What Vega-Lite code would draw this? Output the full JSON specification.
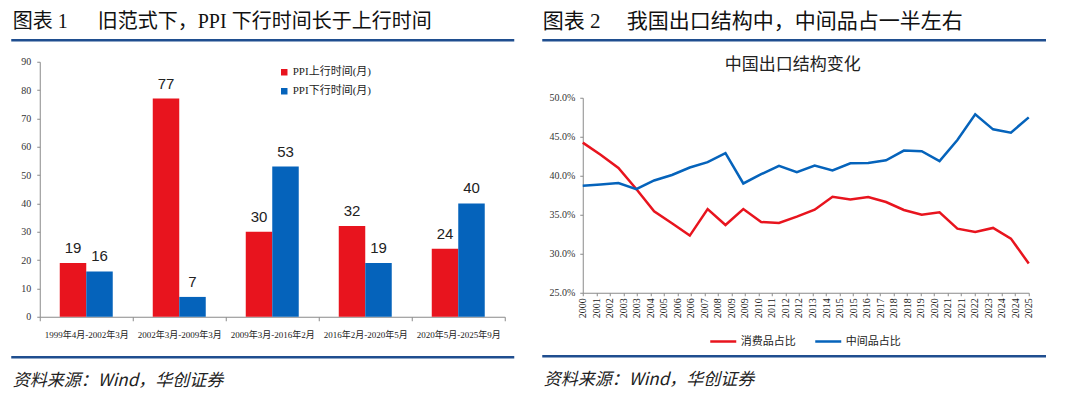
{
  "$schema": "https://vega.github.io/schema/vega-lite/v6.json",
  "background": "white",
  "padding": {"left": 10.75, "top": 10.75, "right": 0, "bottom": 14},
  "config": {
    "view": {"stroke": null},
    "axis": {"grid": false, "labelFont": "Liberation Serif", "labelColor": "#333333", "domainColor": "#8a8a8a", "tickColor": "#8a8a8a", "domainWidth": 1, "tickWidth": 1},
    "legend": {"labelColor": "#222222"}
  },
  "datasets": {
    "ppi": [
      {"period": "1999年4月-2002年3月", "series": "PPI上行时间(月)", "months": 19},
      {"period": "1999年4月-2002年3月", "series": "PPI下行时间(月)", "months": 16},
      {"period": "2002年3月-2009年3月", "series": "PPI上行时间(月)", "months": 77},
      {"period": "2002年3月-2009年3月", "series": "PPI下行时间(月)", "months": 7},
      {"period": "2009年3月-2016年2月", "series": "PPI上行时间(月)", "months": 30},
      {"period": "2009年3月-2016年2月", "series": "PPI下行时间(月)", "months": 53},
      {"period": "2016年2月-2020年5月", "series": "PPI上行时间(月)", "months": 32},
      {"period": "2016年2月-2020年5月", "series": "PPI下行时间(月)", "months": 19},
      {"period": "2020年5月-2025年9月", "series": "PPI上行时间(月)", "months": 24},
      {"period": "2020年5月-2025年9月", "series": "PPI下行时间(月)", "months": 40}
    ],
    "exports": [
      {"year": 2000, "series": "消费品占比", "share": 0.4425},
      {"year": 2001, "series": "消费品占比", "share": 0.427},
      {"year": 2002, "series": "消费品占比", "share": 0.41},
      {"year": 2003, "series": "消费品占比", "share": 0.383},
      {"year": 2004, "series": "消费品占比", "share": 0.3544},
      {"year": 2005, "series": "消费品占比", "share": 0.339},
      {"year": 2006, "series": "消费品占比", "share": 0.3233},
      {"year": 2007, "series": "消费品占比", "share": 0.3573},
      {"year": 2008, "series": "消费品占比", "share": 0.3369},
      {"year": 2009, "series": "消费品占比", "share": 0.3573},
      {"year": 2010, "series": "消费品占比", "share": 0.3407},
      {"year": 2011, "series": "消费品占比", "share": 0.3394},
      {"year": 2012, "series": "消费品占比", "share": 0.3475},
      {"year": 2013, "series": "消费品占比", "share": 0.3565},
      {"year": 2014, "series": "消费品占比", "share": 0.3731},
      {"year": 2015, "series": "消费品占比", "share": 0.3697},
      {"year": 2016, "series": "消费品占比", "share": 0.3727},
      {"year": 2017, "series": "消费品占比", "share": 0.3663},
      {"year": 2018, "series": "消费品占比", "share": 0.3561},
      {"year": 2019, "series": "消费品占比", "share": 0.3501},
      {"year": 2020, "series": "消费品占比", "share": 0.3531},
      {"year": 2021, "series": "消费品占比", "share": 0.3322},
      {"year": 2022, "series": "消费品占比", "share": 0.328},
      {"year": 2023, "series": "消费品占比", "share": 0.3331},
      {"year": 2024, "series": "消费品占比", "share": 0.3194},
      {"year": 2025, "series": "消费品占比", "share": 0.2875},
      {"year": 2000, "series": "中间品占比", "share": 0.3872},
      {"year": 2001, "series": "中间品占比", "share": 0.3889},
      {"year": 2002, "series": "中间品占比", "share": 0.3906},
      {"year": 2003, "series": "中间品占比", "share": 0.3829},
      {"year": 2004, "series": "中间品占比", "share": 0.394},
      {"year": 2005, "series": "中间品占比", "share": 0.401},
      {"year": 2006, "series": "中间品占比", "share": 0.4106},
      {"year": 2007, "series": "中间品占比", "share": 0.4174},
      {"year": 2008, "series": "中间品占比", "share": 0.4289},
      {"year": 2009, "series": "中间品占比", "share": 0.3901},
      {"year": 2010, "series": "中间品占比", "share": 0.402},
      {"year": 2011, "series": "中间品占比", "share": 0.4127},
      {"year": 2012, "series": "中间品占比", "share": 0.4046},
      {"year": 2013, "series": "中间品占比", "share": 0.4131},
      {"year": 2014, "series": "中间品占比", "share": 0.4068},
      {"year": 2015, "series": "中间品占比", "share": 0.416},
      {"year": 2016, "series": "中间品占比", "share": 0.4165},
      {"year": 2017, "series": "中间品占比", "share": 0.4199},
      {"year": 2018, "series": "中间品占比", "share": 0.4323},
      {"year": 2019, "series": "中间品占比", "share": 0.4315},
      {"year": 2020, "series": "中间品占比", "share": 0.4187},
      {"year": 2021, "series": "中间品占比", "share": 0.4459},
      {"year": 2022, "series": "中间品占比", "share": 0.4787},
      {"year": 2023, "series": "中间品占比", "share": 0.4595},
      {"year": 2024, "series": "中间品占比", "share": 0.4553},
      {"year": 2025, "series": "中间品占比", "share": 0.4749}
    ]
  },
  "resolve": {"scale": {"color": "independent"}, "legend": {"color": "independent"}},
  "hconcat": [
    {
      "resolve": {"scale": {"color": "independent"}, "legend": {"color": "independent"}},
      "vconcat": [
        {
          "width": 503, "height": 4,
          "title": {"text": "图表 1\u3000\u00a0\u00a0旧范式下，PPI 下行时间长于上行时间", "anchor": "start", "orient": "top", "font": "Liberation Serif, Noto Sans CJK SC", "fontSize": 20, "fontWeight": "normal", "color": "#111111", "offset": 8, "dx": 2},
          "data": {"values": [{"part": "header"}]},
          "mark": {"type": "point", "opacity": 0, "size": 0},
          "encoding": {"x": {"field": "part", "type": "nominal", "axis": {"orient": "top", "title": null, "labels": false, "ticks": false, "domainColor": "#1f4e8f", "domainWidth": 2.5}}}
        },
        {
          "resolve": {"scale": {"color": "independent"}, "legend": {"color": "independent"}},
          "hconcat": [
            {"width": 1, "height": 1, "data": {"values": [{"part": "gap"}]}, "mark": {"type": "point", "opacity": 0, "size": 0}},
            {
              "width": 465, "height": 255,
              "data": {"name": "ppi"},
              "encoding": {
                "x": {"field": "period", "type": "nominal", "sort": null, "scale": {"paddingInner": 0, "paddingOuter": 0},
                  "axis": {"title": null, "labelAngle": 0, "tickBand": "extent", "tickSize": 4, "labelPadding": 10, "labelFontSize": 9, "labelFont": "Liberation Serif, Noto Sans CJK SC", "labelColor": "#222222"}},
                "xOffset": {"field": "series", "type": "nominal", "sort": null, "scale": {"domain": ["PPI上行时间(月)", "PPI下行时间(月)"], "paddingInner": 0, "paddingOuter": 0.755}},
                "y": {"field": "months", "type": "quantitative", "scale": {"domain": [0, 90], "nice": false},
                  "axis": {"title": null, "values": [0, 10, 20, 30, 40, 50, 60, 70, 80, 90], "tickSize": 3, "labelPadding": 6, "labelFontSize": 10, "minExtent": 28, "maxExtent": 28}}
              },
              "layer": [
                {
                  "mark": {"type": "bar"},
                  "encoding": {
                    "color": {"field": "series", "type": "nominal",
                      "scale": {"domain": ["PPI上行时间(月)", "PPI下行时间(月)"], "range": ["#e8141e", "#0563bb"]},
                      "legend": {"orient": "none", "legendX": 239, "legendY": 5, "title": null, "symbolType": "square", "symbolSize": 42, "symbolStrokeWidth": 0, "labelFont": "Liberation Serif, Noto Sans CJK SC", "labelFontSize": 11, "labelOffset": 3, "rowPadding": 7}}
                  }
                },
                {
                  "mark": {"type": "text", "dy": -10, "baseline": "alphabetic", "font": "Liberation Sans Narrow, Liberation Sans", "fontSize": 15, "color": "#222222"},
                  "encoding": {"text": {"field": "months", "type": "quantitative"}}
                }
              ]
            }
          ],
          "spacing": 0
        },
        {
          "width": 503, "height": 1,
          "title": {"text": "资料来源：Wind，华创证券", "orient": "bottom", "anchor": "start", "font": "Noto Sans CJK SC", "fontStyle": "italic", "fontSize": 17, "fontWeight": "normal", "color": "#222222", "offset": 15, "dx": 2},
          "data": {"values": [{"part": "footer"}]},
          "mark": {"type": "point", "opacity": 0, "size": 0},
          "encoding": {"x": {"field": "part", "type": "nominal", "axis": {"orient": "top", "title": null, "labels": false, "ticks": false, "domainColor": "#1f4e8f", "domainWidth": 2.5, "minExtent": 4}}}
        }
      ],
      "spacing": 13
    },
    {
      "resolve": {"scale": {"color": "independent"}, "legend": {"color": "independent"}},
      "vconcat": [
        {
          "width": 504, "height": 7,
          "title": {"text": "图表 2\u3000\u00a0我国出口结构中，中间品占一半左右", "anchor": "start", "orient": "top", "font": "Liberation Serif, Noto Sans CJK SC", "fontSize": 21, "fontWeight": "normal", "color": "#111111", "offset": 8, "dx": 1},
          "data": {"values": [{"part": "header"}]},
          "mark": {"type": "point", "opacity": 0, "size": 0},
          "encoding": {"x": {"field": "part", "type": "nominal", "axis": {"orient": "top", "title": null, "labels": false, "ticks": false, "domainColor": "#1f4e8f", "domainWidth": 2.5}}}
        },
        {
          "resolve": {"scale": {"color": "independent"}, "legend": {"color": "independent"}},
          "hconcat": [
            {"width": 1, "height": 1, "data": {"values": [{"part": "gap"}]}, "mark": {"type": "point", "opacity": 0, "size": 0}},
            {
              "width": 446, "height": 195,
              "title": {"text": "中国出口结构变化", "font": "Noto Sans CJK SC", "fontSize": 17, "fontWeight": "normal", "color": "#222222", "anchor": "middle", "offset": 19, "dx": -13},
              "data": {"name": "exports"},
              "mark": {"type": "line", "strokeWidth": 2.5},
              "encoding": {
                "x": {"field": "year", "type": "quantitative", "scale": {"domain": [2000, 2025], "nice": false, "zero": false},
                  "axis": {"title": null,
                    "values": [2000, 2000.7576, 2001.5152, 2002.2727, 2003.0303, 2003.7879, 2004.5455, 2005.303, 2006.0606, 2006.8182, 2007.5758, 2008.3333, 2009.0909, 2009.8485, 2010.6061, 2011.3636, 2012.1212, 2012.8788, 2013.6364, 2014.3939, 2015.1515, 2015.9091, 2016.6667, 2017.4242, 2018.1818, 2018.9394, 2019.697, 2020.4545, 2021.2121, 2021.9697, 2022.7273, 2023.4848, 2024.2424, 2025],
                    "labelExpr": "['2000','2001','2002','2003','2003','2004','2005','2006','2006','2007','2008','2009','2009','2010','2011','2012','2012','2013','2014','2015','2015','2016','2017','2018','2018','2019','2020','2021','2021','2022','2023','2024','2024','2025'][round((datum.value-2000)*1.32)]",
                    "labelAngle": -90, "labelFontSize": 10, "tickSize": 3, "labelPadding": 2, "labelOverlap": false, "labelFlush": false, "labelColor": "#222222"}},
                "y": {"field": "share", "type": "quantitative", "scale": {"domain": [0.25, 0.5], "nice": false, "zero": false},
                  "axis": {"title": null, "format": ".1%", "values": [0.25, 0.3, 0.35, 0.4, 0.45, 0.5], "tickSize": 3, "labelPadding": 5, "labelFontSize": 10, "minExtent": 40, "maxExtent": 40}},
                "color": {"field": "series", "type": "nominal",
                  "scale": {"domain": ["消费品占比", "中间品占比"], "range": ["#e8141e", "#0563bb"]},
                  "legend": {"orient": "none", "legendX": 126, "legendY": 229, "direction": "horizontal", "title": null, "symbolType": "stroke", "symbolSize": 676, "symbolStrokeWidth": 2.5, "labelFont": "Noto Sans CJK SC", "labelFontSize": 11, "labelOffset": 3, "columnPadding": 14}}
              }
            }
          ],
          "spacing": 0
        },
        {
          "width": 504, "height": 1,
          "title": {"text": "资料来源：Wind，华创证券", "orient": "bottom", "anchor": "start", "font": "Noto Sans CJK SC", "fontStyle": "italic", "fontSize": 17, "fontWeight": "normal", "color": "#222222", "offset": 15, "dx": 2},
          "data": {"values": [{"part": "footer"}]},
          "mark": {"type": "point", "opacity": 0, "size": 0},
          "encoding": {"x": {"field": "part", "type": "nominal", "axis": {"orient": "top", "title": null, "labels": false, "ticks": false, "domainColor": "#1f4e8f", "domainWidth": 2.5}}}
        }
      ],
      "spacing": 9
    }
  ],
  "spacing": 28
}
